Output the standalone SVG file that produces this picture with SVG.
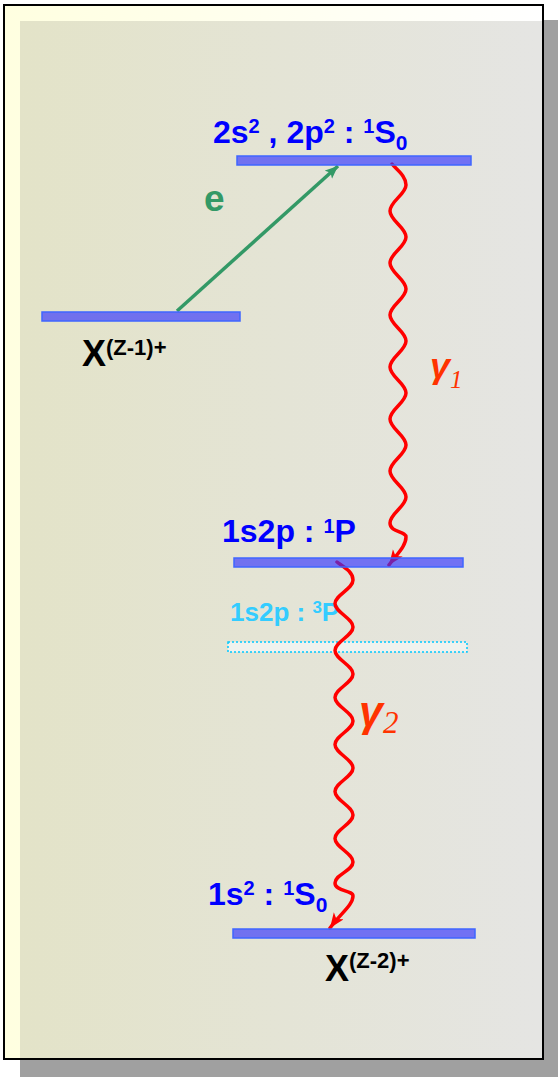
<svg xmlns="http://www.w3.org/2000/svg" width="558" height="1077" viewBox="0 0 558 1077">
<style>
.lvl{fill:#3333ff;fill-opacity:0.65;stroke:#3f66ff;stroke-width:1.5}
.lbl{font-family:"Liberation Sans",Arial,sans-serif;font-weight:bold;fill:#0000ff;font-size:32px}
.sup{font-size:20px}
.sub{font-size:21px}
.x{font-family:"Liberation Sans",Arial,sans-serif;font-weight:bold;fill:#000;font-size:36px}
.g{font-family:"Liberation Sans",Arial,sans-serif;font-weight:bold;font-style:italic;fill:#ff3300}
.gs{font-family:"Liberation Serif","Times New Roman",serif;font-weight:normal;font-style:italic}
.wave{fill:none;stroke:#ff0000;stroke-width:3.5;stroke-linecap:round;stroke-linejoin:round}
</style>
<defs>
<linearGradient id="frameBg" x1="0" y1="0" x2="1" y2="0">
<stop offset="0" stop-color="#ffffe0"/>
<stop offset="1" stop-color="#ffffff"/>
</linearGradient>
<linearGradient id="innerBg" x1="0" y1="0" x2="1" y2="0">
<stop offset="0" stop-color="#e3e3c8"/>
<stop offset="1" stop-color="#e5e5e3"/>
</linearGradient>
<marker id="arrG" markerUnits="userSpaceOnUse" markerWidth="16" markerHeight="12" refX="13" refY="5.5" orient="auto">
<path d="M0,0 L13,5.5 L0,11 L3,5.5 z" fill="#339966"/>
</marker>
<marker id="arrR" markerUnits="userSpaceOnUse" markerWidth="18" markerHeight="14" refX="15" refY="6" orient="auto">
<path d="M0,0 L15,6 L0,12 L4,6 z" fill="#ff0000"/>
</marker>
</defs>
<g id="background">
<rect x="20" y="20" width="538" height="1057" fill="#a0a0a0"/>
<rect x="4" y="5" width="539" height="1054" fill="url(#frameBg)" stroke="#000" stroke-width="2"/>
<rect x="20" y="21" width="522" height="1037" fill="url(#innerBg)"/>
</g>
<g id="level-1s2p-3P">
<rect x="228" y="642" width="239" height="10" fill="#f0f2ee" stroke="#00c8ff" stroke-width="1.5" stroke-dasharray="2,2"/>
<text class="lbl" x="230" y="621" style="font-size:26px;fill:#33ccff">1s2p : <tspan style="font-size:17px" dy="-8">3</tspan><tspan dy="8">P</tspan></text>
</g>
<g id="connectors">
<line x1="177" y1="311" x2="338" y2="166" stroke="#339966" stroke-width="3.5" marker-end="url(#arrG)"/>
<path class="wave" marker-end="url(#arrR)" d="M392,164 C397,170 406,176 406,185 S390,201.5 390,211 S406,227.5 406,237 S390,253.5 390,263 S406,279.5 406,289 S390,305.5 390,315 S406,331.5 406,341 S390,357.5 390,367 S406,383.5 406,393 S390,409.5 390,419 S406,435.5 406,445 S390,461.5 390,471 S406,487.5 406,497 S390,513.5 390,523 S406,531 406,537 C406,546 397,554 389,565"/>
<path class="wave" marker-end="url(#arrR)" d="M337,562 C342,566 353,571 353,580 S335,594.9 335,603.5 S353,618.4 353,627 S335,641.9 335,650.5 S353,665.4 353,674 S335,688.9 335,697.5 S353,712.4 353,721 S335,735.9 335,744.5 S353,759.4 353,768 S335,782.9 335,791.5 S353,806.4 353,815 S335,829.9 335,838.5 S353,853.4 353,862 S335,874.5 335,883 S353,890 353,896 C353,905 340,914 330,928"/>
<text class="g" x="204" y="211" style="font-style:normal;fill:#339966;font-size:37px">e</text>
<text class="g" x="430" y="378" style="font-size:36px">γ<tspan class="gs" style="font-size:25px" dy="10">1</tspan></text>
<text class="g" x="359" y="726" style="font-size:43px">γ<tspan class="gs" style="font-size:31px" dy="7">2</tspan></text>
</g>
<g id="level-X-Z-1">
<rect class="lvl" x="42" y="312" width="198" height="9"/>
<text class="x" x="82" y="366">X<tspan style="font-size:22px" dy="-11">(Z-1)+</tspan></text>
</g>
<g id="level-2s2-2p2">
<rect class="lvl" x="237" y="156" width="234" height="9"/>
<text class="lbl" x="213" y="143">2s<tspan class="sup" dy="-10">2</tspan><tspan dy="10"> , 2p</tspan><tspan class="sup" dy="-10">2</tspan><tspan dy="10"> : </tspan><tspan class="sup" dy="-10">1</tspan><tspan dy="10">S</tspan><tspan class="sub" dy="7">0</tspan></text>
</g>
<g id="level-1s2p-1P">
<rect class="lvl" x="234" y="558" width="229" height="9"/>
<text class="lbl" x="222" y="542">1s2p : <tspan class="sup" dy="-9">1</tspan><tspan dy="9">P</tspan></text>
</g>
<g id="level-1s2">
<rect class="lvl" x="233" y="929" width="242" height="9"/>
<text class="lbl" x="208" y="905">1s<tspan class="sup" dy="-10">2</tspan><tspan dy="10"> : </tspan><tspan class="sup" dy="-10">1</tspan><tspan dy="10">S</tspan><tspan class="sub" dy="7">0</tspan></text>
<text class="x" x="325" y="981">X<tspan style="font-size:22px" dy="-13">(Z-2)+</tspan></text>
</g>
</svg>
